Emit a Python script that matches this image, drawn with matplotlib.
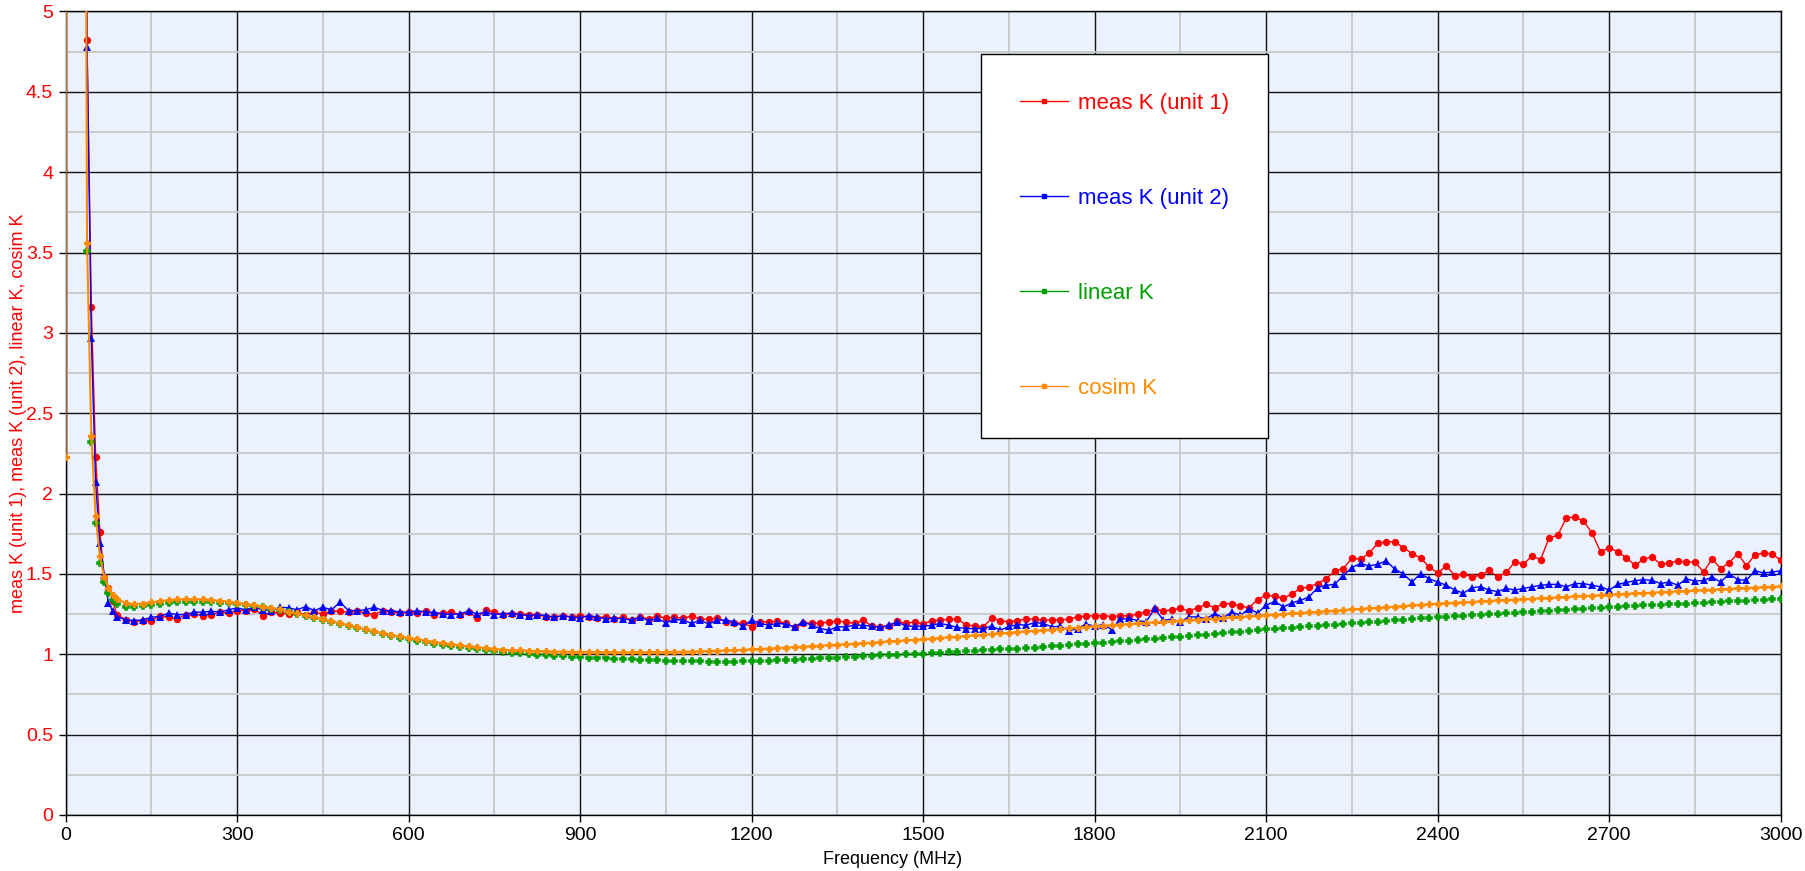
import numpy as np
import matplotlib
matplotlib.use("Agg")
import matplotlib.pyplot as plt
from matplotlib.lines import Line2D
from matplotlib.ticker import MultipleLocator, FuncFormatter

plt.rcParams['font.family'] = ['Liberation Sans', 'DejaVu Sans']

# ---------------- data ----------------
LABELS = ['meas K (unit 1)', 'meas K (unit 2)', 'linear K', 'cosim K']
COLORS = ['#ff0000', '#0000ff', '#009f00', '#ff8c00']

# frequency sweep (MHz)
F_MEAS_LOW = [30, 37.5, 45, 52.5, 60, 67.5, 75, 82.5, 90]
F_SIM_LOW = [0, 7.5, 15, 22.5, 30, 37.5, 45, 52.5, 60, 67.5, 75, 82.5, 90]
F_HIGH = np.arange(105, 3001, 15)

RED_LOW = [10.0, 4.82, 3.16, 2.23, 1.76, 1.48, 1.415, 1.33, 1.245]
BLUE_LOW = [10.0, 4.78, 2.97, 2.07, 1.69, 1.494, 1.318, 1.27, 1.235]
ORANGE_LOW = [2.23, 60, 40, 25, 12, 3.56, 2.36, 1.86, 1.61, 1.48, 1.41, 1.37, 1.345]
GREEN_LOW = [40, 60, 40, 25, 12, 3.51, 2.32, 1.82, 1.57, 1.45, 1.38, 1.34, 1.315]

RED_HIGH = [
    1.216, 1.204, 1.210, 1.210, 1.237, 1.230, 1.220, 1.247, 1.252, 1.241,
    1.247, 1.262, 1.256, 1.272, 1.272, 1.283, 1.241, 1.262, 1.256, 1.252,
    1.262, 1.247, 1.262, 1.252, 1.268, 1.268, 1.262, 1.268, 1.256, 1.247,
    1.272, 1.262, 1.256, 1.262, 1.256, 1.272, 1.247, 1.256, 1.262, 1.247,
    1.262, 1.227, 1.277, 1.262, 1.247, 1.252, 1.252, 1.247, 1.247, 1.235,
    1.231, 1.241, 1.231, 1.241, 1.231, 1.227, 1.235, 1.220, 1.231, 1.214,
    1.231, 1.220, 1.241, 1.223, 1.233, 1.223, 1.238, 1.219, 1.217, 1.227,
    1.202, 1.192, 1.196, 1.171, 1.202, 1.202, 1.206, 1.192, 1.167, 1.192,
    1.196, 1.192, 1.202, 1.206, 1.202, 1.192, 1.213, 1.175, 1.171, 1.175,
    1.206, 1.192, 1.202, 1.188, 1.210, 1.212, 1.218, 1.217, 1.185, 1.175,
    1.170, 1.225, 1.210, 1.202, 1.210, 1.220, 1.218, 1.212, 1.215, 1.214,
    1.220, 1.233, 1.238, 1.240, 1.241, 1.235, 1.240, 1.238, 1.250, 1.265,
    1.279, 1.271, 1.275, 1.285, 1.270, 1.290, 1.310, 1.290, 1.315, 1.315,
    1.300, 1.290, 1.340, 1.370, 1.360, 1.350, 1.375, 1.410, 1.420, 1.440,
    1.470, 1.519, 1.533, 1.600, 1.590, 1.630, 1.690, 1.700, 1.699, 1.664,
    1.627, 1.600, 1.544, 1.506, 1.550, 1.490, 1.500, 1.481, 1.492, 1.523,
    1.480, 1.510, 1.575, 1.560, 1.612, 1.589, 1.726, 1.740, 1.849, 1.855,
    1.830, 1.755, 1.637, 1.664, 1.637, 1.600, 1.554, 1.591, 1.606, 1.560,
    1.570, 1.579, 1.575, 1.575, 1.512, 1.595, 1.533, 1.571, 1.627, 1.550,
    1.620, 1.630, 1.625, 1.585,
]

BLUE_HIGH = [
    1.214, 1.210, 1.214, 1.231, 1.235, 1.256, 1.247, 1.247, 1.262, 1.262,
    1.268, 1.262, 1.277, 1.289, 1.277, 1.293, 1.277, 1.272, 1.293, 1.289,
    1.277, 1.297, 1.272, 1.293, 1.277, 1.324, 1.272, 1.272, 1.277, 1.293,
    1.272, 1.272, 1.262, 1.262, 1.272, 1.262, 1.262, 1.252, 1.247, 1.252,
    1.268, 1.252, 1.262, 1.247, 1.252, 1.256, 1.247, 1.241, 1.247, 1.241,
    1.231, 1.241, 1.231, 1.227, 1.241, 1.231, 1.220, 1.227, 1.220, 1.214,
    1.231, 1.210, 1.223, 1.196, 1.217, 1.213, 1.192, 1.213, 1.188, 1.213,
    1.213, 1.202, 1.175, 1.213, 1.192, 1.181, 1.192, 1.188, 1.171, 1.202,
    1.181, 1.160, 1.150, 1.171, 1.171, 1.181, 1.181, 1.175, 1.167, 1.181,
    1.202, 1.175, 1.175, 1.175, 1.181, 1.192, 1.181, 1.167, 1.160, 1.160,
    1.160, 1.175, 1.150, 1.173, 1.185, 1.181, 1.197, 1.192, 1.171, 1.175,
    1.146, 1.160, 1.188, 1.175, 1.185, 1.154, 1.217, 1.223, 1.210, 1.202,
    1.285, 1.213, 1.217, 1.202, 1.233, 1.232, 1.222, 1.253, 1.228, 1.263,
    1.243, 1.284, 1.257, 1.305, 1.330, 1.295, 1.320, 1.336, 1.357, 1.415,
    1.429, 1.436, 1.490, 1.540, 1.565, 1.550, 1.560, 1.581, 1.530, 1.500,
    1.450, 1.502, 1.470, 1.450, 1.430, 1.400, 1.380, 1.415, 1.420, 1.400,
    1.390, 1.410, 1.400, 1.410, 1.420, 1.429, 1.435, 1.435, 1.420, 1.440,
    1.440, 1.430, 1.420, 1.400, 1.435, 1.447, 1.458, 1.464, 1.460, 1.440,
    1.450, 1.430, 1.470, 1.455, 1.460, 1.480, 1.450, 1.500, 1.465, 1.461,
    1.520, 1.506, 1.512, 1.519,
]

ORANGE_HIGH = [
    1.318, 1.312, 1.316, 1.324, 1.331, 1.337, 1.341, 1.343, 1.343, 1.341,
    1.338, 1.333, 1.328, 1.321, 1.314, 1.305, 1.297, 1.289, 1.279, 1.266,
    1.254, 1.242, 1.231, 1.218, 1.206, 1.193, 1.181, 1.168, 1.156, 1.143,
    1.132, 1.121, 1.111, 1.102, 1.094, 1.085, 1.077, 1.069, 1.062, 1.055,
    1.049, 1.043, 1.038, 1.033, 1.029, 1.026, 1.024, 1.022, 1.020, 1.018,
    1.017, 1.016, 1.015, 1.014, 1.013, 1.013, 1.012, 1.012, 1.012, 1.012,
    1.012, 1.013, 1.013, 1.014, 1.015, 1.016, 1.017, 1.018, 1.020, 1.022,
    1.024, 1.026, 1.028, 1.030, 1.033, 1.036, 1.039, 1.042, 1.045, 1.048,
    1.051, 1.054, 1.057, 1.060, 1.063, 1.066, 1.069, 1.072, 1.076, 1.080,
    1.083, 1.087, 1.090, 1.094, 1.098, 1.102, 1.106, 1.110, 1.114, 1.118,
    1.122, 1.126, 1.130, 1.134, 1.138, 1.142, 1.146, 1.150, 1.154, 1.158,
    1.162, 1.166, 1.170, 1.175, 1.178, 1.182, 1.185, 1.188, 1.192, 1.195,
    1.199, 1.202, 1.206, 1.209, 1.212, 1.216, 1.219, 1.222, 1.226, 1.229,
    1.233, 1.236, 1.240, 1.243, 1.247, 1.250, 1.254, 1.257, 1.261, 1.265,
    1.268, 1.272, 1.275, 1.279, 1.283, 1.286, 1.290, 1.293, 1.297, 1.300,
    1.304, 1.308, 1.311, 1.315, 1.318, 1.321, 1.323, 1.326, 1.329, 1.332,
    1.335, 1.337, 1.340, 1.343, 1.346, 1.349, 1.351, 1.354, 1.357, 1.360,
    1.363, 1.365, 1.368, 1.371, 1.374, 1.376, 1.379, 1.381, 1.384, 1.387,
    1.389, 1.392, 1.394, 1.397, 1.400, 1.402, 1.405, 1.407, 1.410, 1.413,
    1.415, 1.418, 1.420, 1.423,
]

GREEN_HIGH = [
    1.295, 1.292, 1.300, 1.307, 1.314, 1.319, 1.323, 1.325, 1.326, 1.326,
    1.325, 1.322, 1.318, 1.313, 1.307, 1.300, 1.292, 1.284, 1.275, 1.263,
    1.251, 1.239, 1.227, 1.214, 1.202, 1.189, 1.176, 1.163, 1.151, 1.138,
    1.126, 1.115, 1.104, 1.094, 1.085, 1.076, 1.067, 1.059, 1.051, 1.044,
    1.037, 1.031, 1.025, 1.019, 1.014, 1.009, 1.005, 1.001, 0.997, 0.994,
    0.991, 0.988, 0.985, 0.982, 0.979, 0.977, 0.974, 0.972, 0.970, 0.968,
    0.966, 0.964, 0.962, 0.960, 0.959, 0.958, 0.957, 0.956, 0.955, 0.955,
    0.955, 0.955, 0.956, 0.957, 0.958, 0.960, 0.962, 0.964, 0.967, 0.969,
    0.972, 0.975, 0.978, 0.980, 0.983, 0.985, 0.988, 0.990, 0.993, 0.995,
    0.997, 0.999, 1.001, 1.003, 1.006, 1.009, 1.012, 1.015, 1.018, 1.021,
    1.024, 1.027, 1.030, 1.033, 1.036, 1.039, 1.042, 1.045, 1.049, 1.053,
    1.057, 1.061, 1.065, 1.069, 1.073, 1.077, 1.081, 1.085, 1.089, 1.093,
    1.097, 1.101, 1.105, 1.109, 1.113, 1.118, 1.122, 1.127, 1.131, 1.136,
    1.140, 1.145, 1.150, 1.155, 1.159, 1.163, 1.166, 1.170, 1.174, 1.178,
    1.181, 1.185, 1.189, 1.193, 1.196, 1.200, 1.204, 1.208, 1.211, 1.215,
    1.219, 1.223, 1.227, 1.231, 1.234, 1.237, 1.240, 1.243, 1.246, 1.249,
    1.252, 1.255, 1.258, 1.262, 1.265, 1.268, 1.271, 1.274, 1.277, 1.281,
    1.284, 1.287, 1.290, 1.294, 1.296, 1.299, 1.301, 1.304, 1.306, 1.309,
    1.311, 1.314, 1.316, 1.319, 1.321, 1.324, 1.326, 1.329, 1.331, 1.334,
    1.336, 1.339, 1.341, 1.344,
]

X_LABEL = 'Frequency (MHz)'
Y_LABEL = 'meas K (unit 1), meas K (unit 2), linear K, cosim K'

# ---------------- assemble ----------------
F_MEAS = np.concatenate([F_MEAS_LOW, F_HIGH])
F_SIM = np.concatenate([F_SIM_LOW, F_HIGH])
red = np.array(RED_LOW + RED_HIGH)
blue = np.array(BLUE_LOW + BLUE_HIGH)
orange = np.array(ORANGE_LOW + ORANGE_HIGH)
green = np.array(GREEN_LOW + GREEN_HIGH)

fig = plt.figure(figsize=(18.05, 8.71), dpi=100)
ax = fig.add_axes([0.03634, 0.0643, 0.9502, 0.9225])
ax.set_facecolor('#ebf1fd')
ax.set_xlim(0, 3000)
ax.set_ylim(0, 5)
ax.xaxis.set_major_locator(MultipleLocator(300))
ax.xaxis.set_minor_locator(MultipleLocator(150))
ax.yaxis.set_major_locator(MultipleLocator(0.5))
ax.yaxis.set_minor_locator(MultipleLocator(0.25))
ax.yaxis.set_major_formatter(FuncFormatter(lambda v, p: '%g' % v))
ax.grid(which='minor', color='#c8c8c8', lw=1.3)
ax.grid(which='major', color='#141414', lw=1.0)
ax.set_axisbelow(True)
ax.tick_params(which='major', direction='out', length=5, width=1, labelsize=14, pad=4)
ax.tick_params(which='minor', length=0)
ax.tick_params(axis='y', labelcolor='#ff0000')
for s in ax.spines.values():
    s.set_color('black')
    s.set_linewidth(1.0)

ax.plot(F_MEAS, red, color=COLORS[0], lw=1.0, marker='o', ms=5.3, mew=0, zorder=3)
ax.plot(F_MEAS, blue, color=COLORS[1], lw=1.0, marker='^', ms=5.6, mew=0, zorder=3)
ax.plot(F_SIM, green, ls='none', color=COLORS[2], marker='P', ms=4.8, mew=1.1,
        mec=COLORS[2], zorder=3)
ax.plot(F_SIM, orange, color=COLORS[3], lw=1.5, marker='P', ms=4.5, mew=0.9,
        mec=COLORS[3], zorder=3, clip_on=True)

ax.set_ylabel(Y_LABEL, color='#ff0000', fontsize=13)
ax.yaxis.set_label_coords(-0.0225, 0.5)
ax.set_xlabel(X_LABEL, fontsize=13)
ax.xaxis.set_label_coords(0.482, -0.045)

handles = [Line2D([0], [0], color=c, lw=1.0, marker='s', ms=2.5) for c in COLORS]
leg = ax.legend(handles, LABELS, loc='upper left', bbox_to_anchor=(0.534, 0.947),
                fontsize=16, frameon=True, fancybox=False, edgecolor='black',
                framealpha=1, borderpad=1.75, labelspacing=3.33, handlelength=2.14,
                handletextpad=0.45, borderaxespad=0, labelcolor='linecolor')
leg.get_frame().set_linewidth(1.0)
leg.set_zorder(5)

fig.savefig('out.png', dpi=100)
